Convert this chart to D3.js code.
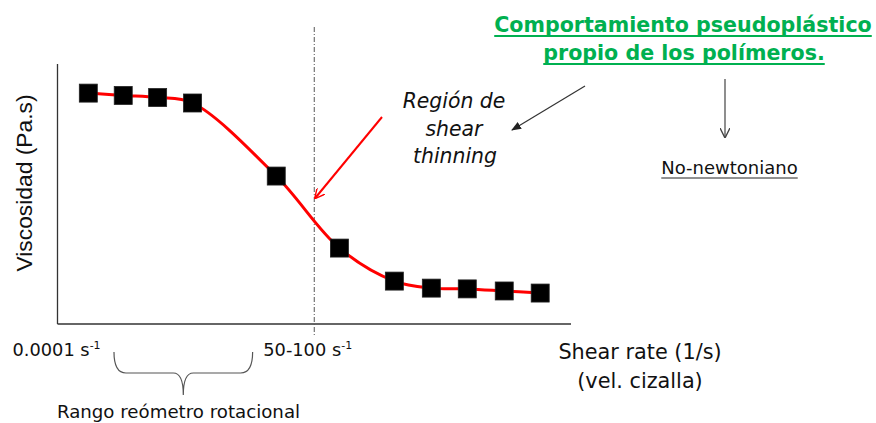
<!DOCTYPE html>
<html lang="en">
<head>
<meta charset="utf-8">
<title>Viscosidad vs shear rate</title>
<script src="https://d3js.org/d3.v7.min.js"></script>
<style>
  body { margin: 0; background: #fff; }
  text { font-family: "DejaVu Sans", Verdana, sans-serif; fill: #111; }
  .axis-line { stroke: #333; stroke-width: 1.3; }
</style>
</head>
<body>
<svg id="chart" width="876" height="423"></svg>
<script>
// data (abstract units)
var shearRate = [6, 12.8, 19.5, 26.3, 42.6, 54.9, 65.6, 72.8, 79.8, 87, 94];
var viscosity = [88.8, 87.9, 87.1, 85, 56.9, 29.2, 16.5, 13.8, 13.5, 12.7, 11.9];
var tickValues = [0, 50];
var tickLabels = ["0.0001 s", "50-100 s"];
var rotRange = [11, 38]; // brace span "Rango reómetro rotacional"

var svg = d3.select("#chart");
var x = d3.scaleLinear().domain([0, 100]).range([57.5, 571]);
var y = d3.scaleLinear().domain([0, 100]).range([324, 64]);

var points = shearRate.map(function(d, i) { return {x: d, y: viscosity[i]}; });

// arrow heads
var defs = svg.append("defs");
function marker(id, color, filled) {
  var m = defs.append("marker").attr("id", id)
    .attr("viewBox", "0 0 10 10").attr("refX", 9).attr("refY", 5)
    .attr("markerWidth", 10).attr("markerHeight", 10)
    .attr("markerUnits", "userSpaceOnUse").attr("orient", "auto");
  if (filled) {
    m.append("path").attr("d", "M0,1 L10,5 L0,9 Z").attr("fill", color);
  } else {
    m.append("path").attr("d", "M0,0 L10,5 L0,10").attr("fill", "none")
      .attr("stroke", color).attr("stroke-width", 1.4);
  }
}
marker("arrRed", "#ff0000", false);
marker("arrDark", "#222", true);
marker("arrGray", "#444", false);

// axes
svg.append("line").attr("class", "axis-line")
  .attr("x1", x(0)).attr("x2", x(0)).attr("y1", y(100)).attr("y2", y(0));
svg.append("line").attr("class", "axis-line")
  .attr("x1", x(0)).attr("x2", x(100)).attr("y1", y(0)).attr("y2", y(0));

// dash-dot reference line at 50-100 s-1
svg.append("line")
  .attr("x1", x(50)).attr("x2", x(50)).attr("y1", 27).attr("y2", y(0) + 11)
  .attr("stroke", "#555").attr("stroke-width", 1)
  .attr("stroke-dasharray", "5,2,1,2");

// fitted curve
var line = d3.line().x(function(d) { return x(d.x); }).y(function(d) { return y(d.y); })
  .curve(d3.curveCatmullRom.alpha(0.5));
svg.append("path").datum(points).attr("d", line)
  .attr("fill", "none").attr("stroke", "#ff0000").attr("stroke-width", 3);

// data squares
var sz = 18;
svg.selectAll(".pt").data(points).enter().append("rect")
  .attr("class", "pt")
  .attr("x", function(d) { return x(d.x) - sz / 2; })
  .attr("y", function(d) { return y(d.y) - sz / 2; })
  .attr("width", sz).attr("height", sz)
  .attr("fill", "#000").attr("stroke", "#222").attr("stroke-width", 0.8);

// tick labels with superscript
tickLabels.forEach(function(lbl, i) {
  var t = svg.append("text")
    .attr("x", x(tickValues[i]) + (i == 0 ? -45 : -51))
    .attr("y", 356).attr("font-size", 17.8).text(lbl);
  t.append("tspan").attr("font-size", 11).attr("dy", -7).text("-1");
});

// y axis title
svg.append("text")
  .attr("transform", "translate(32,183) rotate(-90)")
  .attr("text-anchor", "middle")
  .style("font-family", "'Liberation Sans', Arial, sans-serif")
  .attr("font-size", 22.8)
  .text("Viscosidad (Pa.s)");

// x axis title
svg.append("text").attr("x", 640).attr("y", 359).attr("text-anchor", "middle")
  .attr("font-size", 20.8).text("Shear rate (1/s)");
svg.append("text").attr("x", 640).attr("y", 388).attr("text-anchor", "middle")
  .attr("font-size", 20.8).text("(vel. cizalla)");

// brace
var bx0 = x(rotRange[0]), bx1 = x(rotRange[1]), bm = (bx0 + bx1) / 2;
var by0 = 352, by1 = 373, by2 = 395;
svg.append("path")
  .attr("d", "M" + bx0 + "," + by0 + " Q" + bx0 + "," + by1 + " " + (bx0 + 12) + "," + by1 +
    " L" + (bm - 10) + "," + by1 + " Q" + bm + "," + by1 + " " + bm + "," + by2 +
    " Q" + bm + "," + by1 + " " + (bm + 10) + "," + by1 +
    " L" + (bx1 - 12) + "," + by1 + " Q" + bx1 + "," + by1 + " " + bx1 + "," + by0)
  .attr("fill", "none").attr("stroke", "#555").attr("stroke-width", 1.2);
svg.append("text").attr("x", 178.5).attr("y", 418).attr("text-anchor", "middle")
  .attr("font-size", 18.2).text("Rango reómetro rotacional");

// shear thinning annotation
var rg = svg.append("text").attr("text-anchor", "middle").attr("font-size", 20.4)
  .attr("font-style", "italic");
[["Región de", 454, 108], ["shear", 454, 136], ["thinning", 455, 163]].forEach(function(l) {
  rg.append("tspan").attr("x", l[1]).attr("y", l[2]).text(l[0]);
});
svg.append("line").attr("x1", 382).attr("y1", 117).attr("x2", x(50) + 1).attr("y2", 198)
  .attr("stroke", "#ff0000").attr("stroke-width", 2).attr("marker-end", "url(#arrRed)");

// title (green, underlined)
var green = "#00b050";
[["Comportamiento pseudoplástico", 683, 32], ["propio de los polímeros.", 684, 60]].forEach(function(l) {
  var t = svg.append("text").attr("x", l[1]).attr("y", l[2]).attr("text-anchor", "middle")
    .attr("font-size", 20.6).attr("font-weight", "bold").style("fill", green).text(l[0]);
  var w = t.node().getComputedTextLength();
  svg.append("line").attr("x1", l[1] - w / 2).attr("x2", l[1] + w / 2)
    .attr("y1", l[2] + 4).attr("y2", l[2] + 4).attr("stroke", green).attr("stroke-width", 1.8);
});

svg.append("line").attr("x1", 585).attr("y1", 86).attr("x2", 512).attr("y2", 130)
  .attr("stroke", "#333").attr("stroke-width", 1.2).attr("marker-end", "url(#arrDark)");
svg.append("line").attr("x1", 725).attr("y1", 79).attr("x2", 725).attr("y2", 137)
  .attr("stroke", "#444").attr("stroke-width", 1.2).attr("marker-end", "url(#arrGray)");

var nn = svg.append("text").attr("x", 729.5).attr("y", 174).attr("text-anchor", "middle")
  .attr("font-size", 18).text("No-newtoniano");
var nw = nn.node().getComputedTextLength();
svg.append("line").attr("x1", 729.5 - nw / 2).attr("x2", 729.5 + nw / 2)
  .attr("y1", 178).attr("y2", 178).attr("stroke", "#222").attr("stroke-width", 1);
</script>
</body>
</html>
